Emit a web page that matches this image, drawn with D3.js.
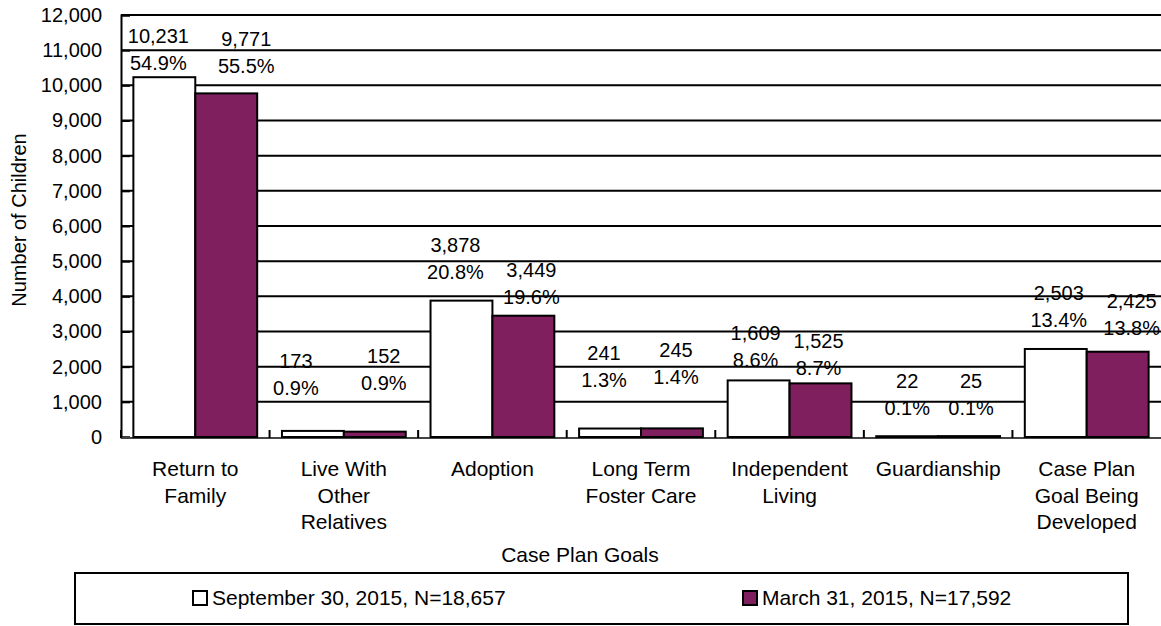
<!DOCTYPE html>
<meta charset="utf-8">
<style>
  body { margin: 0; background: #fff; }
  text {
    font-family: "Liberation Sans", Arial, sans-serif;
    font-size: 20px;
    fill: #000;
  }
  .big { font-size: 21px; }
  .grid line { stroke: #000; stroke-width: 2px; }
  .bar { stroke: #000; stroke-width: 2px; }
</style>
<body>
<svg width="1161" height="626"></svg>
<script src="https://d3js.org/d3.v7.min.js"></script>
<script>
// Dane
const categories = [
  'Return to Family',
  'Live With Other Relatives',
  'Adoption',
  'Long Term Foster Care',
  'Independent Living',
  'Guardianship',
  'Case Plan Goal Being Developed'
];
const categoryLines = [
  ['Return to', 'Family'],
  ['Live With', 'Other', 'Relatives'],
  ['Adoption'],
  ['Long Term', 'Foster Care'],
  ['Independent', 'Living'],
  ['Guardianship'],
  ['Case Plan', 'Goal Being', 'Developed']
];
const seriesNames = ['September 30, 2015, N=18,657', 'March 31, 2015, N=17,592'];
const sept2015 = [10231, 173, 3878, 241, 1609, 22, 2503];
const sept2015Pct = ['54.9%', '0.9%', '20.8%', '1.3%', '8.6%', '0.1%', '13.4%'];
const mar2015 = [9771, 152, 3449, 245, 1525, 25, 2425];
const mar2015Pct = ['55.5%', '0.9%', '19.6%', '1.4%', '8.7%', '0.1%', '13.8%'];
const yTicks = d3.range(0, 12001, 1000);

// Ręczne położenie etykiet (jak w oryginale): wysokość w jednostkach osi i przesunięcie w px
const labelAtSept = [10634, 1393, 4692, 1621, 2190, 825, 3327];
const labelAtMar = [10549, 1535, 3981, 1706, 1962, 825, 3100];
const labelDxSept = [-6, -17, -6, -6, -3, 0, 3];
const labelDxMar = [20, 9, 8, 4, -2, 2, 14];

const colors = ['#ffffff', '#7f1f5e'];

const svg = d3.select('svg');
const plotLeft = 121, plotRight = 1161, plotTop = 15, plotBottom = 437;

const x0 = d3.scaleBand().domain(categories).range([plotLeft, plotRight]).padding(0);
const x1 = d3.scaleBand().domain(seriesNames).range([0, x0.bandwidth()])
  .paddingInner(0).paddingOuter(0.2);
const y = d3.scaleLinear().domain([0, 12000]).range([plotBottom, plotTop]);

// Linie siatki
svg.append('g')
  .attr('class', 'grid')
  .selectAll('line')
  .data(yTicks.filter(d => d > 0))
  .enter().append('line')
  .attr('x1', plotLeft).attr('x2', plotRight)
  .attr('y1', d => y(d)).attr('y2', d => y(d));

// Oś Y
const yAxis = svg.append('g')
  .attr('transform', `translate(${plotLeft},0)`)
  .call(d3.axisLeft(y).tickValues(yTicks).tickFormat(d3.format(',')).tickSize(-9).tickPadding(19));
yAxis.select('.domain').attr('stroke', '#000').attr('stroke-width', 2);
yAxis.selectAll('.tick line').attr('stroke', '#000').attr('stroke-width', 2);
yAxis.selectAll('text').attr('font-size', 20).attr('font-family', '"Liberation Sans", Arial, sans-serif');

// Oś X
svg.append('line')
  .attr('x1', plotLeft).attr('x2', plotRight)
  .attr('y1', plotBottom + 1).attr('y2', plotBottom + 1)
  .attr('stroke', '#444').attr('stroke-width', 2);
svg.append('g')
  .selectAll('line')
  .data(categories)
  .enter().append('line')
  .attr('x1', d => x0(d)).attr('x2', d => x0(d))
  .attr('y1', plotBottom - 7).attr('y2', plotBottom + 1)
  .attr('stroke', '#000').attr('stroke-width', 2);

// Słupki
const series = [
  { name: seriesNames[0], values: sept2015, pct: sept2015Pct, at: labelAtSept, dx: labelDxSept, color: colors[0] },
  { name: seriesNames[1], values: mar2015, pct: mar2015Pct, at: labelAtMar, dx: labelDxMar, color: colors[1] }
];

series.forEach(s => {
  const g = svg.append('g');
  g.selectAll('rect')
    .data(categories)
    .enter().append('rect')
    .attr('class', 'bar')
    .attr('x', d => x0(d) + x1(s.name))
    .attr('y', (d, i) => y(s.values[i]))
    .attr('width', x1.bandwidth())
    .attr('height', (d, i) => y(0) - y(s.values[i]))
    .attr('fill', s.color);

  const lab = g.selectAll('g.lab')
    .data(categories)
    .enter().append('g')
    .attr('transform', (d, i) =>
      `translate(${x0(d) + x1(s.name) + x1.bandwidth() / 2 + s.dx[i]},${y(s.at[i])})`);
  lab.append('text')
    .attr('text-anchor', 'middle')
    .attr('dy', '0.35em')
    .text((d, i) => s.pct[i]);
  lab.append('text')
    .attr('text-anchor', 'middle')
    .attr('y', -27)
    .attr('dy', '0.35em')
    .text((d, i) => d3.format(',')(s.values[i]));
});

// Etykiety kategorii
const cat = svg.append('g')
  .selectAll('text')
  .data(categories)
  .enter().append('text')
  .attr('class', 'big')
  .attr('text-anchor', 'middle')
  .attr('x', d => x0(d) + x0.bandwidth() / 2)
  .attr('y', 476);
cat.selectAll('tspan')
  .data((d, i) => categoryLines[i])
  .enter().append('tspan')
  .attr('x', function () { return this.parentNode.getAttribute('x'); })
  .attr('dy', (d, i) => i === 0 ? 0 : 26.5)
  .text(d => d);

// Tytuły osi
svg.append('text')
  .attr('class', 'big')
  .attr('text-anchor', 'middle')
  .attr('x', 580)
  .attr('y', 562)
  .text('Case Plan Goals');

svg.append('text')
  .attr('text-anchor', 'middle')
  .attr('transform', `translate(26,${(plotTop + plotBottom) / 2 - 6}) rotate(-90)`)
  .text('Number of Children');

// Legenda
svg.append('rect')
  .attr('x', 75).attr('y', 573)
  .attr('width', 1053).attr('height', 51)
  .attr('fill', 'none').attr('stroke', '#000').attr('stroke-width', 2);

const legendX = [193, 743];
const legend = svg.append('g')
  .selectAll('g')
  .data(series)
  .enter().append('g')
  .attr('transform', (d, i) => `translate(${legendX[i]},598)`);
legend.append('rect')
  .attr('x', 0).attr('y', -7)
  .attr('width', 14).attr('height', 14)
  .attr('fill', d => d.color)
  .attr('stroke', '#000').attr('stroke-width', 2);
legend.append('text')
  .attr('class', 'big')
  .attr('x', 19)
  .attr('dy', '0.35em')
  .text(d => d.name);
</script>
</body>
